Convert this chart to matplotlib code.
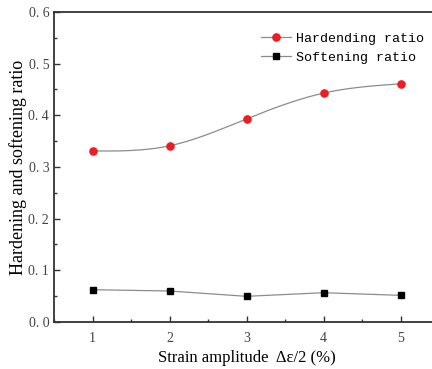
import numpy as np
import matplotlib.pyplot as plt
from matplotlib.ticker import MultipleLocator, FormatStrFormatter

strain = [1, 2, 3, 4, 5]
hardening = [0.331, 0.341, 0.393, 0.443, 0.461]
softening = [0.0625, 0.060, 0.0497, 0.0567, 0.0516]


def natural_spline(x, y, n=200):
    x = np.asarray(x, float)
    y = np.asarray(y, float)
    k = len(x)
    h = np.diff(x)
    A = np.zeros((k, k))
    b = np.zeros(k)
    A[0, 0] = A[-1, -1] = 1
    for i in range(1, k - 1):
        A[i, i - 1] = h[i - 1]
        A[i, i] = 2 * (h[i - 1] + h[i])
        A[i, i + 1] = h[i]
        b[i] = 6 * ((y[i + 1] - y[i]) / h[i] - (y[i] - y[i - 1]) / h[i - 1])
    M = np.linalg.solve(A, b)
    xs = np.linspace(x[0], x[-1], n)
    ys = np.empty_like(xs)
    for j, t in enumerate(xs):
        i = min(np.searchsorted(x, t, side='right') - 1, k - 2)
        a, c = x[i + 1] - t, t - x[i]
        ys[j] = (M[i] * a**3 + M[i + 1] * c**3) / (6 * h[i]) \
            + (y[i] / h[i] - M[i] * h[i] / 6) * a \
            + (y[i + 1] / h[i] - M[i + 1] * h[i] / 6) * c
    return xs, ys


serif = ['Liberation Serif', 'DejaVu Serif']
fig = plt.figure(figsize=(4.32, 3.69), dpi=100)
ax = fig.add_axes([54 / 432, 1 - 322 / 369, 385 / 432, 310 / 369])

xs, ys = natural_spline(strain, hardening)
ax.plot(xs, ys, color='#8c8c8c', lw=0.9, zorder=1)
ax.plot(strain, softening, color='#8c8c8c', lw=0.9, zorder=1)
ax.plot(strain, hardening, 'o', color='#ee1c25', ms=5.2, zorder=2)
ax.plot(strain, softening, 's', color='black', ms=4.3, zorder=2)

h1, = ax.plot([], [], '-o', color='#8c8c8c', mfc='#ee1c25', mec='#ee1c25', ms=5.2, lw=0.9)
h2, = ax.plot([], [], '-s', color='#8c8c8c', mfc='black', mec='black', ms=4.3, lw=0.9)
ax.legend([h1, h2], ['Hardending ratio', 'Softening ratio'], loc='upper left',
          bbox_to_anchor=(0.507, 0.972), frameon=False, handlelength=2.2,
          handletextpad=0.4, labelspacing=0.5,
          prop={'family': ['Liberation Mono', 'DejaVu Sans Mono'], 'size': 9.6})

ax.set_xlim(0.5, 5.5)
ax.set_ylim(0, 0.6)
ax.xaxis.set_major_locator(MultipleLocator(1))
ax.xaxis.set_minor_locator(MultipleLocator(0.5))
ax.yaxis.set_major_locator(MultipleLocator(0.1))
ax.yaxis.set_minor_locator(MultipleLocator(0.05))
ax.yaxis.set_major_formatter(FormatStrFormatter('%.1f'))
ax.set_yticklabels([f'{v:.1f}'.replace('.', '. ') for v in ax.get_yticks()])
ax.tick_params(which='both', direction='in', width=1, colors='#333333', labelcolor='#444444',
               labelsize=10)
ax.tick_params(which='major', length=4)
ax.tick_params(which='minor', length=2)
ax.tick_params(axis='x', pad=7)
for lab in ax.get_xticklabels() + ax.get_yticklabels():
    lab.set_family(serif)
for s in ax.spines.values():
    s.set_linewidth(1.3)
    s.set_color('#333333')

ax.set_xlabel('Strain amplitude  \u0394\u03b5/2 (%)', family=serif, fontsize=12, labelpad=4)
ax.set_ylabel('Hardening and softening ratio', family=serif, fontsize=13, labelpad=1)

fig.savefig('out.png', dpi=100)
